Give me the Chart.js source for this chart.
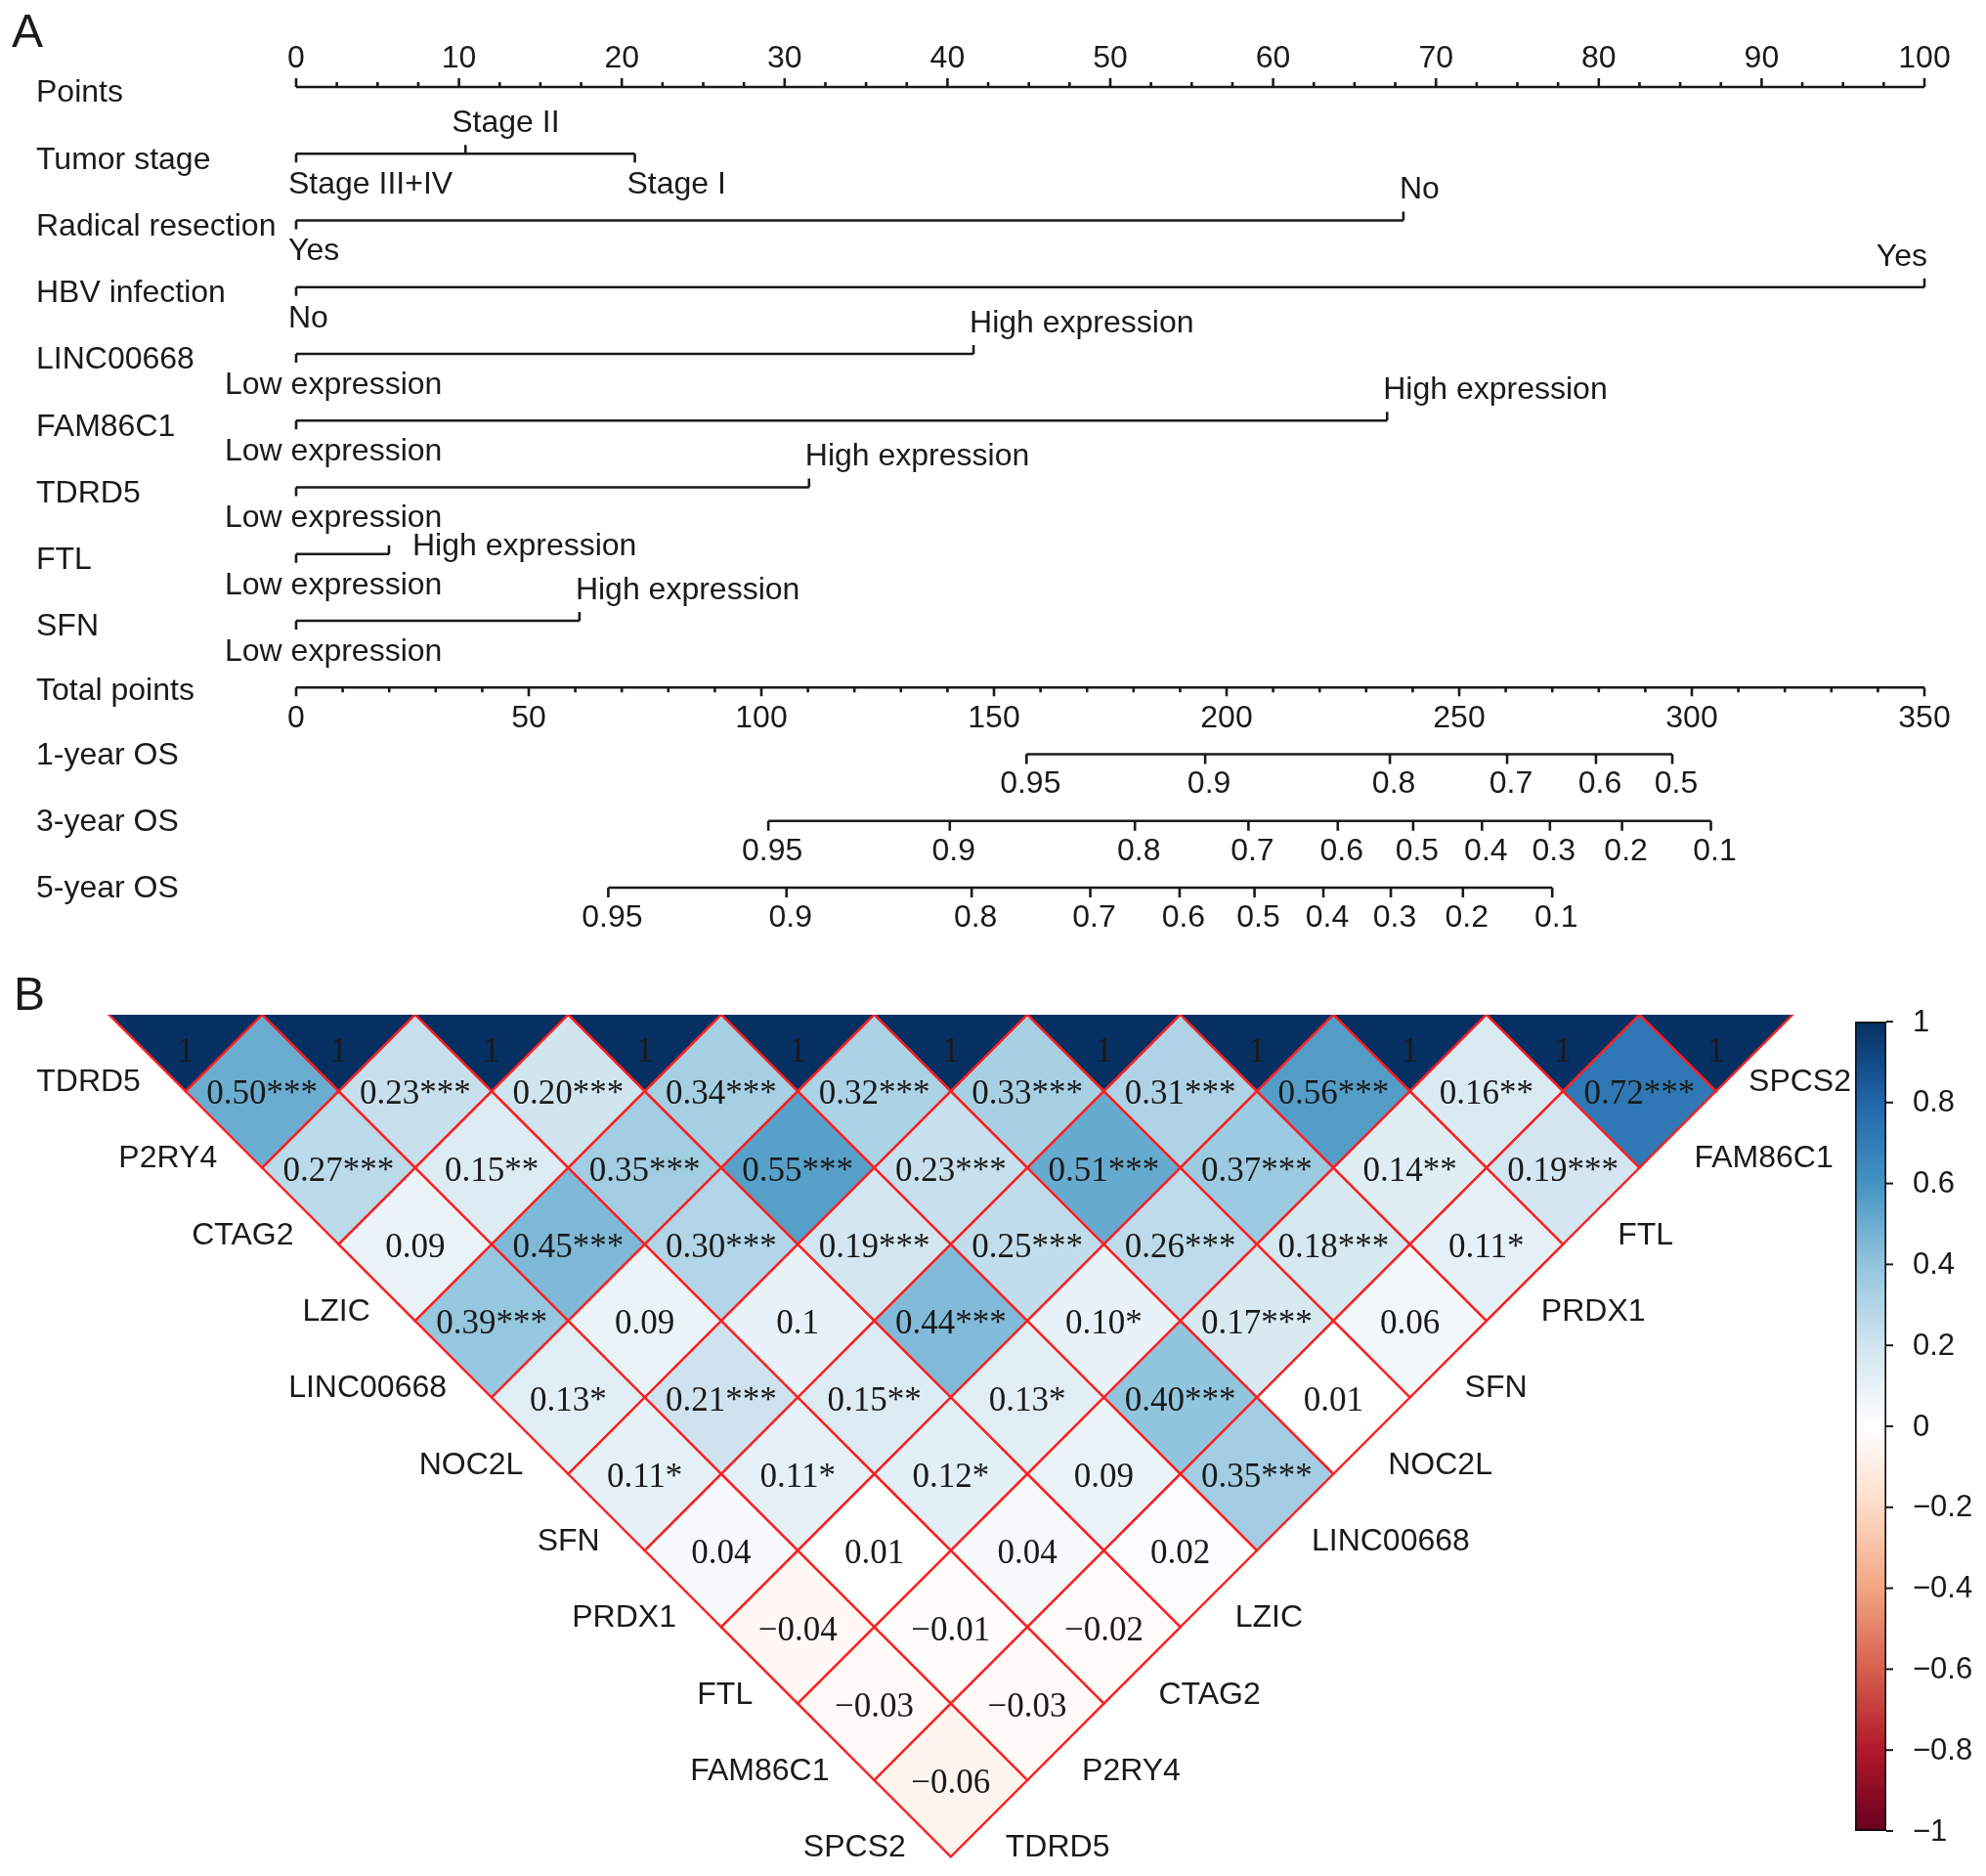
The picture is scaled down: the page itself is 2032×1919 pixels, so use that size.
<!DOCTYPE html>
<html>
<head>
<meta charset="utf-8">
<title>Nomogram and correlation heatmap</title>
<script src="https://cdn.jsdelivr.net/npm/chart.js@4.4.1/dist/chart.umd.min.js"></script>
<style>
  html, body { margin: 0; padding: 0; background: #fff; overflow: hidden; }
  #wrap { position: relative; width: 2032px; height: 1919px; }
  canvas { position: absolute; }
</style>
</head>
<body>
<div id="wrap">
  <canvas id="nomo" width="2032" height="980" style="left:0;top:0;width:2032px;height:980px"></canvas>
  <canvas id="corr" width="2032" height="939" style="left:0;top:980px;width:2032px;height:939px"></canvas>
  <canvas id="cbar" width="172" height="939" style="left:1860px;top:980px;width:172px;height:939px"></canvas>
</div>
<script>
// ---- panel A data (nomogram) ----
var rowNames = ['Points', 'Tumor stage', 'Radical resection', 'HBV infection', 'LINC00668',
  'FAM86C1', 'TDRD5', 'FTL', 'SFN', 'Total points', '1-year OS', '3-year OS', '5-year OS'];
var pointsTicks = [0, 10, 20, 30, 40, 50, 60, 70, 80, 90, 100];
var totalTicks = [0, 50, 100, 150, 200, 250, 300, 350];

var tumorStageLabels = ['Stage III+IV', 'Stage II', 'Stage I'];
var tumorStagePoints = [0, 10.4, 20.8];
var resectionLabels = ['Yes', 'No'];
var resectionPoints = [0, 68];
var hbvLabels = ['No', 'Yes'];
var hbvPoints = [0, 100];
var exprLabels = ['Low expression', 'High expression'];
var lincPoints = [0, 41.6];
var fam86c1Points = [0, 67];
var tdrd5Points = [0, 31.5];
var ftlPoints = [0, 5.7];
var sfnPoints = [0, 17.4];

var os1Labels = ['0.95', '0.9', '0.8', '0.7', '0.6', '0.5'];
var os1Total = [157, 195.4, 235.1, 260.3, 279.4, 295.8];
var os35Labels = ['0.95', '0.9', '0.8', '0.7', '0.6', '0.5', '0.4', '0.3', '0.2', '0.1'];
var os3Total = [101.5, 140.5, 180.3, 204.7, 223.9, 240.1, 254.9, 269.5, 285.0, 304.1];
var os5Total = [67.1, 105.4, 145.2, 170.7, 189.9, 206.0, 220.8, 235.3, 250.8, 270.0];

// ---- panel B data (correlations) ----
var genes = ['TDRD5', 'P2RY4', 'CTAG2', 'LZIC', 'LINC00668', 'NOC2L', 'SFN', 'PRDX1', 'FTL', 'FAM86C1', 'SPCS2'];
var diag1 = ['0.50***', '0.23***', '0.20***', '0.34***', '0.32***', '0.33***', '0.31***', '0.56***', '0.16**', '0.72***'];
var diag2 = ['0.27***', '0.15**', '0.35***', '0.55***', '0.23***', '0.51***', '0.37***', '0.14**', '0.19***'];
var diag3 = ['0.09', '0.45***', '0.30***', '0.19***', '0.25***', '0.26***', '0.18***', '0.11*'];
var diag4 = ['0.39***', '0.09', '0.1', '0.44***', '0.10*', '0.17***', '0.06'];
var diag5 = ['0.13*', '0.21***', '0.15**', '0.13*', '0.40***', '0.01'];
var diag6 = ['0.11*', '0.11*', '0.12*', '0.09', '0.35***'];
var diag7 = ['0.04', '0.01', '0.04', '0.02'];
var diag8 = ['-0.04', '-0.01', '-0.02'];
var diag9 = ['-0.03', '-0.03'];
var diag10 = ['-0.06'];
var colorTicks = [1, 0.8, 0.6, 0.4, 0.2, 0, -0.2, -0.4, -0.6, -0.8, -1];

var rdbu = ['#67001F', '#B2182B', '#D6604D', '#F4A582', '#FDDBC7', '#FFFFFF',
  '#D1E5F0', '#92C5DE', '#4393C3', '#2166AC', '#053061'];

var INK = '#1a1a1a';
var SANS = '"Liberation Sans", Arial, Helvetica, sans-serif';
var SERIF = '"Liberation Serif", "Times New Roman", serif';

function hexToRgb(h) {
  return [parseInt(h.substr(1, 2), 16), parseInt(h.substr(3, 2), 16), parseInt(h.substr(5, 2), 16)];
}
function corrColor(v) {
  var t = Math.max(0, Math.min(1, (v + 1) / 2)) * (rdbu.length - 1);
  var i = Math.min(Math.floor(t), rdbu.length - 2);
  var f = t - i;
  var a = hexToRgb(rdbu[i]), b = hexToRgb(rdbu[i + 1]);
  return 'rgb(' + Math.round(a[0] + (b[0] - a[0]) * f) + ',' +
    Math.round(a[1] + (b[1] - a[1]) * f) + ',' + Math.round(a[2] + (b[2] - a[2]) * f) + ')';
}
function minus(s) { return String(s).replace('-', '\u2212'); }

// variable rows of the nomogram
var varRows = [
  { row: 1, labels: tumorStageLabels, pts: tumorStagePoints },
  { row: 2, labels: resectionLabels, pts: resectionPoints },
  { row: 3, labels: hbvLabels, pts: hbvPoints },
  { row: 4, labels: exprLabels, pts: lincPoints },
  { row: 5, labels: exprLabels, pts: fam86c1Points },
  { row: 6, labels: exprLabels, pts: tdrd5Points },
  { row: 7, labels: exprLabels, pts: ftlPoints },
  { row: 8, labels: exprLabels, pts: sfnPoints }
];
var osRows = [
  { row: 10, labels: os1Labels, pts: os1Total },
  { row: 11, labels: os35Labels, pts: os3Total },
  { row: 12, labels: os35Labels, pts: os5Total }
];

function lineSet(data, axis) {
  return {
    data: data, xAxisID: axis, showLine: true, borderColor: INK, borderWidth: 2.6,
    pointRadius: 0, clip: false, tension: 0
  };
}

var nomoSets = [lineSet([{ x: 0, y: 0 }, { x: 100, y: 0 }], 'x')];
varRows.forEach(function (r) {
  nomoSets.push(lineSet([{ x: r.pts[0], y: r.row }, { x: r.pts[r.pts.length - 1], y: r.row }], 'x'));
});
nomoSets.push(lineSet([{ x: 0, y: 9 }, { x: 350, y: 9 }], 'xt'));
osRows.forEach(function (r) {
  nomoSets.push(lineSet(r.pts.map(function (p) { return { x: p, y: r.row }; }), 'xt'));
});

function tick(ctx, x, y, len) {
  ctx.beginPath();
  ctx.moveTo(x, y);
  ctx.lineTo(x, y + len);
  ctx.stroke();
}

var nomoDecor = {
  id: 'nomoDecor',
  afterDraw: function (chart) {
    var ctx = chart.ctx, sx = chart.scales.x, st = chart.scales.xt, sy = chart.scales.y;
    ctx.save();
    ctx.fillStyle = INK;
    ctx.strokeStyle = INK;
    ctx.lineWidth = 2.6;

    ctx.font = '48px ' + SANS;
    ctx.textAlign = 'left';
    ctx.textBaseline = 'alphabetic';
    ctx.fillText('A', 12, 48);

    ctx.font = '32px ' + SANS;
    ctx.textBaseline = 'middle';
    rowNames.forEach(function (name, r) {
      var off = r <= 8 ? 6.5 : (r === 9 ? 4 : 1.5);
      ctx.textAlign = 'left';
      ctx.fillText(name, 37, sy.getPixelForValue(r) + off);
    });

    // Points axis
    var y0 = sy.getPixelForValue(0);
    for (var v = 0; v <= 100; v += 2.5) {
      var major = pointsTicks.indexOf(v) >= 0;
      tick(ctx, sx.getPixelForValue(v), y0, major ? -9 : -5);
    }
    ctx.textAlign = 'center';
    pointsTicks.forEach(function (t) { ctx.fillText(String(t), sx.getPixelForValue(t), y0 - 29); });

    // variable rows
    varRows.forEach(function (r) {
      var y = sy.getPixelForValue(r.row);
      r.pts.forEach(function (p, k) {
        var x = sx.getPixelForValue(p);
        var above = k % 2 === 1;
        var text = r.labels[k];
        tick(ctx, x, y, above ? -9 : 9);
        ctx.textAlign = 'left';
        if (r.row === 7 && above) {
          ctx.fillText(text, x + 24, y - 8);
        } else if (above) {
          if (p >= 100) { ctx.textAlign = 'right'; ctx.fillText(text, x + 3, y - 31); }
          else ctx.fillText(text, x + (r.row === 1 ? -14 : -4), y - 31);
        } else {
          ctx.fillText(text, x + (text.indexOf('Low') === 0 ? -73 : -8), y + 32);
        }
      });
    });

    // Total points axis
    var yt = sy.getPixelForValue(9);
    for (var w = 0; w <= 350; w += 10) {
      tick(ctx, st.getPixelForValue(w), yt, totalTicks.indexOf(w) >= 0 ? 9 : 5);
    }
    ctx.textAlign = 'center';
    totalTicks.forEach(function (t) { ctx.fillText(String(t), st.getPixelForValue(t), yt + 32); });

    // survival rows
    osRows.forEach(function (r) {
      var y = sy.getPixelForValue(r.row);
      r.pts.forEach(function (p, k) {
        var x = st.getPixelForValue(p);
        tick(ctx, x, y, 10);
        ctx.fillText(r.labels[k], x + 4, y + 31);
      });
    });
    ctx.restore();
  }
};

new Chart(document.getElementById('nomo'), {
  type: 'scatter',
  data: { datasets: nomoSets },
  options: {
    responsive: false, maintainAspectRatio: false, animation: false, devicePixelRatio: 1,
    events: [],
    layout: { padding: { left: 303, right: 63, top: 89, bottom: 72 } },
    plugins: { legend: { display: false }, tooltip: { enabled: false } },
    scales: {
      x: { type: 'linear', min: 0, max: 100, display: false },
      xt: { type: 'linear', axis: 'x', position: 'bottom', min: 0, max: 350, display: false },
      y: { type: 'linear', min: 0, max: 12, reverse: true, display: false }
    }
  },
  plugins: [nomoDecor]
});

// ---- panel B: rotated lower triangle ----
var cells = [];
genes.forEach(function (g, i) { cells.push({ x: 1 + 2 * i, y: 0, v: 1, t: '1', d: true }); });
[diag1, diag2, diag3, diag4, diag5, diag6, diag7, diag8, diag9, diag10].forEach(function (row, k0) {
  var k = k0 + 1;
  row.forEach(function (lbl, i) {
    var j = i + k;
    cells.push({ x: 1 + i + j, y: k, v: parseFloat(lbl), t: lbl });
  });
});

function cellRadius(c) {
  var s = c.chart.scales.x;
  return Math.abs(s.getPixelForValue(1) - s.getPixelForValue(0));
}

var corrDecor = {
  id: 'corrDecor',
  afterDraw: function (chart) {
    var ctx = chart.ctx, sx = chart.scales.x, sy = chart.scales.y;
    ctx.save();
    ctx.fillStyle = INK;
    ctx.font = '48px ' + SANS;
    ctx.textAlign = 'left';
    ctx.textBaseline = 'alphabetic';
    ctx.fillText('B', 14, 53);

    ctx.font = '35px ' + SERIF;
    ctx.textAlign = 'center';
    ctx.textBaseline = 'middle';
    cells.forEach(function (c) {
      var x = sx.getPixelForValue(c.x);
      var y = c.d ? sy.getPixelForValue(0.5) : sy.getPixelForValue(c.y) + 4;
      ctx.fillText(minus(c.t), x, y);
    });

    ctx.font = '32px ' + SANS;
    var barLeft = 1898;
    genes.forEach(function (g, j) {
      // left edge labels
      ctx.textAlign = 'right';
      ctx.fillText(g, sx.getPixelForValue(j + 1) - 46, sy.getPixelForValue(j + 1) - 9);
      // right edge labels
      var cx = sx.getPixelForValue(11 + j), cy = sy.getPixelForValue(11 - j);
      var wdt = ctx.measureText(g).width;
      ctx.textAlign = 'left';
      ctx.fillText(g, Math.min(cx + 56, barLeft - wdt - 4), cy - 9);
    });
    ctx.restore();
  }
};

new Chart(document.getElementById('corr'), {
  type: 'scatter',
  data: {
    datasets: [{
      data: cells,
      pointStyle: 'rectRot',
      pointRadius: cellRadius,
      pointBackgroundColor: function (c) { return c.raw ? corrColor(c.raw.v) : '#fff'; },
      pointBorderColor: '#ff1f1f',
      pointBorderWidth: 2.4,
      clip: { left: 10, top: 0, right: 10, bottom: 10 }
    }]
  },
  options: {
    responsive: false, maintainAspectRatio: false, animation: false, devicePixelRatio: 1,
    events: [],
    layout: { padding: { left: 111.6, right: 198, top: 58, bottom: 19.7 } },
    plugins: { legend: { display: false }, tooltip: { enabled: false } },
    scales: {
      x: { type: 'linear', min: 0, max: 22, display: false },
      y: { type: 'linear', min: 0, max: 11, reverse: true, display: false }
    }
  },
  plugins: [corrDecor]
});

// ---- colour bar ----
function barGradient(c) {
  var ch = c.chart, s = ch.scales.y;
  if (!s || !ch.chartArea) return '#ffffff';
  var yLow = s.getPixelForValue(-1), yHigh = s.getPixelForValue(1);
  if (!isFinite(yLow) || !isFinite(yHigh)) return '#ffffff';
  var g = ch.ctx.createLinearGradient(0, yLow, 0, yHigh);
  rdbu.forEach(function (col, i) { g.addColorStop(i / (rdbu.length - 1), col); });
  return g;
}

var cbarDecor = {
  id: 'cbarDecor',
  afterDraw: function (chart) {
    var ctx = chart.ctx, sy = chart.scales.y, right = chart.chartArea.right;
    ctx.save();
    ctx.strokeStyle = INK;
    ctx.fillStyle = INK;
    ctx.lineWidth = 2;
    ctx.font = '31px ' + SANS;
    ctx.textAlign = 'left';
    ctx.textBaseline = 'middle';
    colorTicks.forEach(function (v) {
      var y = sy.getPixelForValue(v);
      ctx.beginPath();
      ctx.moveTo(right, y);
      ctx.lineTo(right + 7, y);
      ctx.stroke();
      ctx.fillText(minus(v), right + 27, y + 1);
    });
    ctx.restore();
  }
};

var cbarChart = new Chart(document.getElementById('cbar'), {
  type: 'bar',
  data: {
    labels: ['r'],
    datasets: [{
      data: [[-1, 1]],
      backgroundColor: barGradient,
      borderColor: '#111',
      borderWidth: 2,
      borderSkipped: false,
      barPercentage: 1,
      categoryPercentage: 1
    }]
  },
  options: {
    responsive: false, maintainAspectRatio: false, animation: false, devicePixelRatio: 1,
    events: [],
    layout: { padding: { left: 38, right: 102, top: 65, bottom: 46 } },
    plugins: { legend: { display: false }, tooltip: { enabled: false } },
    scales: {
      x: { display: false },
      y: { min: -1, max: 1, display: false }
    }
  },
  plugins: [cbarDecor]
});
cbarChart.update();
</script>
</body>
</html>
